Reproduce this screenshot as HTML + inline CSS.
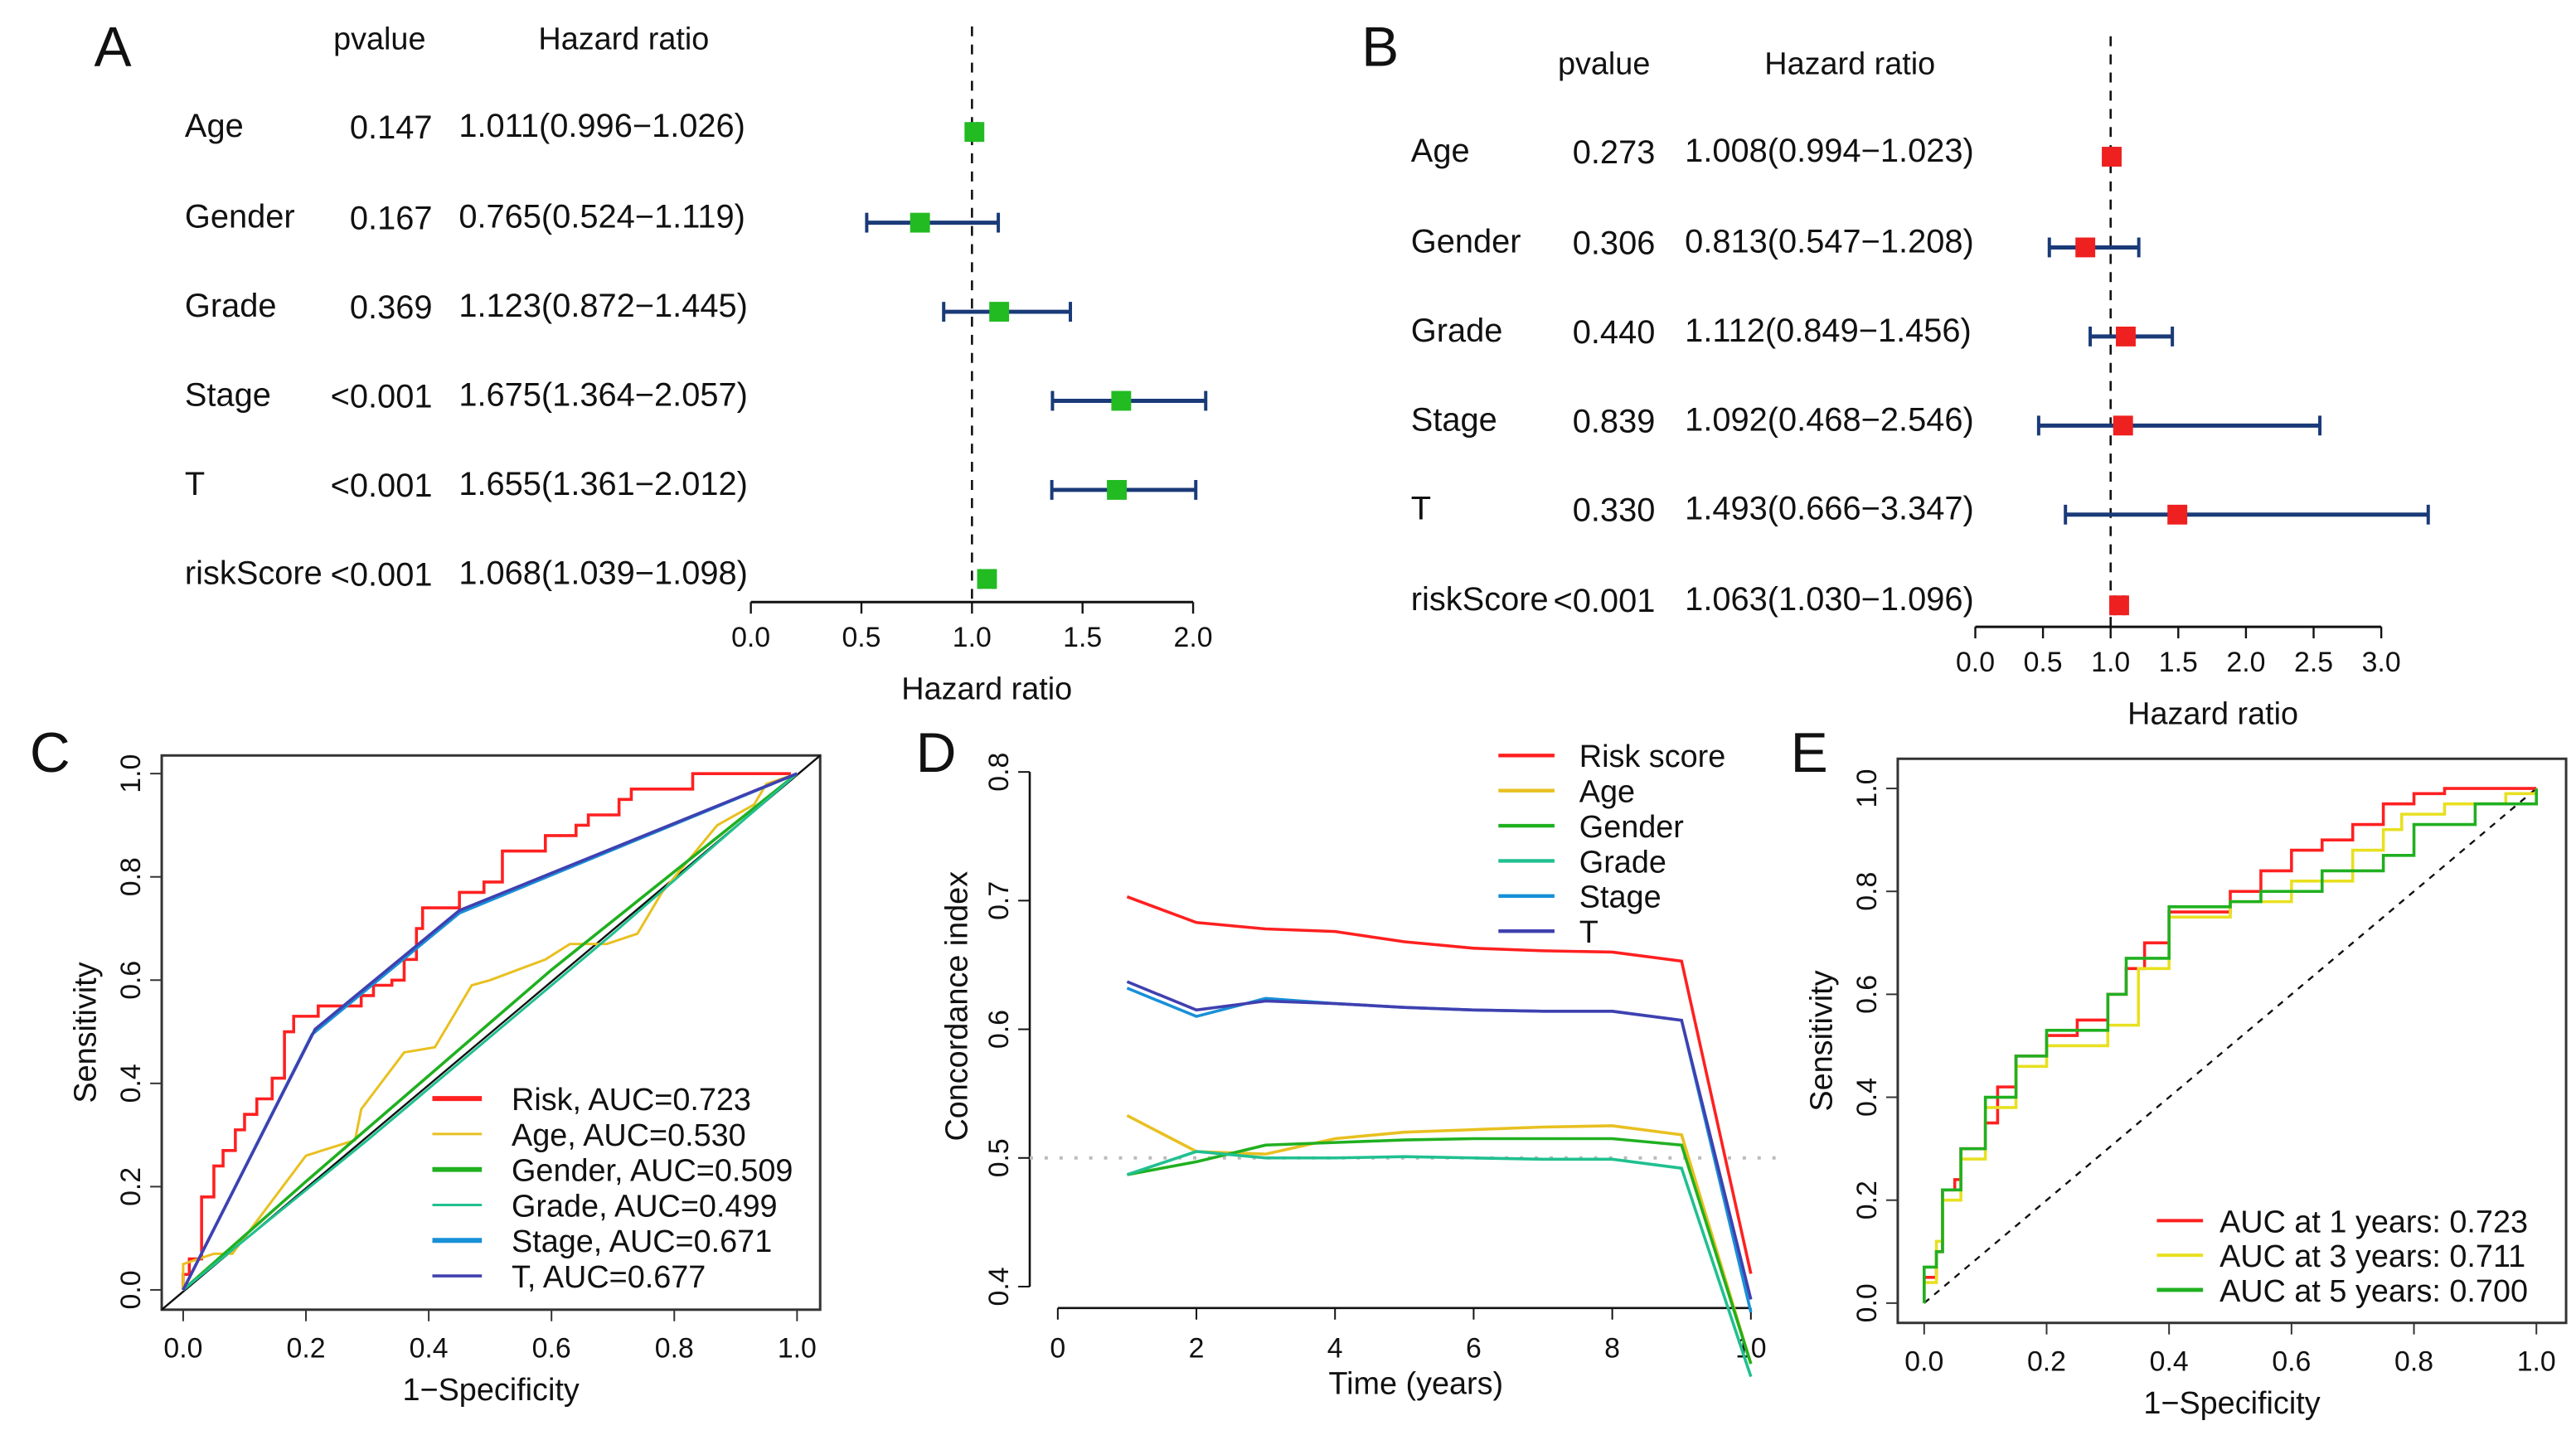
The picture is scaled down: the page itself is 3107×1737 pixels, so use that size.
<!DOCTYPE html>
<html><head><meta charset="utf-8"><style>
html,body{margin:0;padding:0;background:#fff}
svg{display:block;font-family:"Liberation Sans",sans-serif}
</style></head><body>
<svg id="fig" width="3107" height="1737" viewBox="0 0 1561 873" preserveAspectRatio="none" xmlns="http://www.w3.org/2000/svg">
<rect x="0" y="0" width="1561" height="873" fill="#fff"/>
</svg>
<script>
// ---- Data ----
const forestVars = ["Age","Gender","Grade","Stage","T","riskScore"];
const aP = ["0.147","0.167","0.369","<0.001","<0.001","<0.001"];
const aHR = [1.011,0.765,1.123,1.675,1.655,1.068];
const aLo = [0.996,0.524,0.872,1.364,1.361,1.039];
const aHi = [1.026,1.119,1.445,2.057,2.012,1.098];
const bP = ["0.273","0.306","0.440","0.839","0.330","<0.001"];
const bHR = [1.008,0.813,1.112,1.092,1.493,1.063];
const bLo = [0.994,0.547,0.849,0.468,0.666,1.030];
const bHi = [1.023,1.208,1.456,2.546,3.347,1.096];
const aTicks = [0,0.5,1.0,1.5,2.0];
const bTicks = [0,0.5,1.0,1.5,2.0,2.5,3.0];

const cLabels = ["Risk, AUC=0.723","Age, AUC=0.530","Gender, AUC=0.509","Grade, AUC=0.499","Stage, AUC=0.671","T, AUC=0.677"];
const cColors = ["#ff2020","#e8c020","#20b020","#20c090","#1890d8","#4040b0"];
const cRisk = [[0,0],[0,0.03],[0.01,0.06],[0.02,0.06],[0.03,0.18],[0.05,0.24],[0.065,0.27],[0.085,0.31],[0.1,0.34],[0.12,0.37],[0.145,0.41],[0.165,0.46],[0.165,0.5],[0.18,0.53],[0.22,0.55],[0.26,0.55],[0.29,0.57],[0.31,0.59],[0.34,0.6],[0.36,0.64],[0.38,0.7],[0.39,0.74],[0.45,0.77],[0.49,0.79],[0.52,0.85],[0.59,0.88],[0.64,0.9],[0.66,0.92],[0.71,0.95],[0.73,0.97],[0.83,1],[0.99,1]];
const cAge = [[0,0],[0,0.05],[0.05,0.07],[0.08,0.07],[0.2,0.26],[0.28,0.29],[0.29,0.35],[0.36,0.46],[0.41,0.47],[0.47,0.59],[0.5,0.6],[0.59,0.64],[0.63,0.67],[0.69,0.67],[0.74,0.69],[0.78,0.77],[0.87,0.9],[0.93,0.94],[0.95,0.98],[1,1]];
const cGender = [[0,0],[0.2,0.21],[0.6,0.62],[1,1]];
const cGrade = [[0,0],[0.3,0.29],[0.7,0.69],[1,1]];
const cStage = [[0,0],[0.21,0.495],[0.45,0.73],[1,1]];
const cT = [[0,0],[0.215,0.505],[0.45,0.735],[1,1]];
const cSeries = [cRisk,cAge,cGender,cGrade,cStage,cT];

const dYears = [1,2,3,4,5,6,7,8,9,10];
const dRisk = [0.703,0.683,0.678,0.676,0.668,0.663,0.661,0.660,0.653,0.41];
const dAge = [0.533,0.505,0.503,0.515,0.520,0.522,0.524,0.525,0.518,0.34];
const dGender = [0.487,0.497,0.510,0.512,0.514,0.515,0.515,0.515,0.510,0.34];
const dGrade = [0.487,0.505,0.500,0.500,0.501,0.500,0.499,0.499,0.492,0.33];
const dStage = [0.632,0.610,0.624,0.620,0.617,0.615,0.614,0.614,0.607,0.38];
const dT = [0.637,0.615,0.622,0.620,0.617,0.615,0.614,0.614,0.607,0.39];
const dLabels = ["Risk score","Age","Gender","Grade","Stage","T"];
const dSeries = [dRisk,dAge,dGender,dGrade,dStage,dT];
const dYTicks = [0.4,0.5,0.6,0.7,0.8];
const dXTicks = [0,2,4,6,8,10];

const eLabels = ["AUC at 1 years: 0.723","AUC at 3 years: 0.711","AUC at 5 years: 0.700"];
const eColors = ["#ff2020","#e8e020","#20b020"];
const e1 = [[0,0],[0,0.05],[0.02,0.1],[0.03,0.22],[0.05,0.24],[0.06,0.3],[0.1,0.35],[0.12,0.42],[0.15,0.48],[0.2,0.52],[0.25,0.55],[0.3,0.6],[0.33,0.65],[0.36,0.7],[0.4,0.76],[0.5,0.8],[0.55,0.84],[0.6,0.88],[0.65,0.9],[0.7,0.93],[0.75,0.97],[0.8,0.99],[0.85,1],[1,1]];
const e3 = [[0,0],[0,0.04],[0.02,0.12],[0.03,0.2],[0.06,0.28],[0.1,0.38],[0.15,0.46],[0.2,0.5],[0.3,0.54],[0.35,0.65],[0.4,0.75],[0.5,0.78],[0.6,0.82],[0.7,0.88],[0.75,0.92],[0.78,0.95],[0.85,0.97],[0.95,0.99],[1,1]];
const e5 = [[0,0],[0,0.07],[0.02,0.1],[0.03,0.22],[0.06,0.3],[0.1,0.4],[0.15,0.48],[0.2,0.53],[0.3,0.6],[0.33,0.67],[0.4,0.77],[0.5,0.78],[0.55,0.8],[0.65,0.84],[0.75,0.87],[0.8,0.93],[0.9,0.97],[1,1]];
const eSeries = [e1,e3,e5];
const rocTicks = [0,0.2,0.4,0.6,0.8,1.0];

// ---- helpers ----
const NS="http://www.w3.org/2000/svg";
const svg=document.getElementById('fig');
function el(tag,attrs,parent){const e=document.createElementNS(NS,tag);for(const k in attrs)e.setAttribute(k,attrs[k]);(parent||svg).appendChild(e);return e;}
function txt(x,y,s,size,anchor,parent,rot){const t=el('text',{x:x,y:y,'font-size':size,'text-anchor':anchor||'start',fill:'#111'},parent);if(rot)t.setAttribute('transform','rotate('+rot+' '+x+' '+y+')');t.textContent=s;return t;}
function g(name){const e=el('g',{});return e;}
function fmt(v){return v.toFixed(3);}
function fmt1(v){return v.toFixed(1);}

// ---- Forest plot ----
function forest(o){
  const G=g(o.name);
  const L=txt(o.lx,o.ly,o.letter,34,'start',G);
  txt(o.pc,o.hy,'pvalue',19,'middle',G);
  txt(o.hc,o.hy,'Hazard ratio',19,'middle',G);
  const sx=v=>o.x0+v*o.k;
  el('line',{x1:sx(1),x2:sx(1),y1:o.dTop,y2:o.axY,stroke:'#111','stroke-width':1.3,'stroke-dasharray':'6,5'},G);
  forestVars.forEach((v,i)=>{
    const y=o.rows[i];
    const r=g('row-'+v.toLowerCase());G.appendChild(r);
    txt(o.nx,y+6,v,20,'start',r);
    txt(o.pr,y+7,o.P[i],20,'end',r);
    txt(o.hx,y+6,fmt(o.HR[i])+'('+fmt(o.Lo[i])+'\u2212'+fmt(o.Hi[i])+')',20,'start',r);
    const cy=y+3;
    const ci=el('g',{},r);
    el('line',{x1:sx(o.Lo[i]),x2:sx(o.Hi[i]),y1:cy,y2:cy,stroke:'#1a3a78','stroke-width':2.5},ci);
    el('line',{x1:sx(o.Lo[i]),x2:sx(o.Lo[i]),y1:cy-6,y2:cy+6,stroke:'#1a3a78','stroke-width':2},ci);
    el('line',{x1:sx(o.Hi[i]),x2:sx(o.Hi[i]),y1:cy-6,y2:cy+6,stroke:'#1a3a78','stroke-width':2},ci);
    const m=el('rect',{x:sx(o.HR[i])-6,y:cy-6,width:12,height:12,fill:o.col},r);
    
  });
  const ax=g('x-axis');G.appendChild(ax);
  el('line',{x1:sx(o.ticks[0]),x2:sx(o.ticks[o.ticks.length-1]),y1:o.axY,y2:o.axY,stroke:'#111','stroke-width':1.5},ax);
  o.ticks.forEach(t=>{el('line',{x1:sx(t),x2:sx(t),y1:o.axY,y2:o.axY+7,stroke:'#111','stroke-width':1.2},ax);txt(sx(t),o.axY+27,fmt1(t),17,'middle',ax);});
  const xt=txt(o.xtx,o.xty,'Hazard ratio',19,'middle',G);
}
forest({name:'panel-a-forest',letter:'A',lx:57,ly:40,pc:230,hc:378,hy:30,nx:112,pr:262,hx:278,rows:[77,132,186,240,294,348],P:aP,HR:aHR,Lo:aLo,Hi:aHi,x0:455,k:134,dTop:16,axY:365,ticks:aTicks,col:'#22bb22',xtx:598,xty:424});
forest({name:'panel-b-forest',letter:'B',lx:825,ly:40,pc:972,hc:1121,hy:45,nx:855,pr:1003,hx:1021,rows:[92,147,201,255,309,364],P:bP,HR:bHR,Lo:bLo,Hi:bHi,x0:1197,k:82,dTop:22,axY:380,ticks:bTicks,col:'#ee2020',xtx:1341,xty:439});

// ---- ROC panel ----
function roc(o){
  const G=g(o.name);
  const L=txt(o.lx,o.ly,o.letter,34,'start',G);
  const sx=v=>o.x0+v*(o.x1-o.x0), sy=v=>o.y0-v*(o.y0-o.y1);
  el('rect',{x:o.bx0,y:o.by0,width:o.bx1-o.bx0,height:o.by1-o.by0,fill:'none',stroke:'#333','stroke-width':1.5},G);
  const xa=g('x-axis');G.appendChild(xa);
  rocTicks.forEach(t=>{el('line',{x1:sx(t),x2:sx(t),y1:o.by1,y2:o.by1+7,stroke:'#333'},xa);txt(sx(t),o.by1+29,fmt1(t),17,'middle',xa);});
  const ya=g('y-axis');G.appendChild(ya);
  rocTicks.forEach(t=>{el('line',{x1:o.bx0,x2:o.bx0-7,y1:sy(t),y2:sy(t),stroke:'#333'},ya);txt(o.bx0-13,sy(t),fmt1(t),17,'middle',ya,-90);});
  const xt=txt((o.bx0+o.bx1)/2,o.by1+55,'1\u2212Specificity',19,'middle',G);
  const yt=txt(o.bx0-40,(o.by0+o.by1)/2,'Sensitivity',19,'middle',G,-90);
  const dg=el('line',{x1:o.dg[0],y1:o.dg[1],x2:o.dg[2],y2:o.dg[3],stroke:'#111','stroke-width':1.2},G);
  if(o.dash)dg.setAttribute('stroke-dasharray','4,4');
  
  o.series.forEach((s,i)=>{
    let pts;
    if(o.step[i]){pts=[];s.forEach((p,j)=>{if(j>0){pts.push(sx(p[0])+','+sy(s[j-1][1]));}pts.push(sx(p[0])+','+sy(p[1]));});}
    else pts=s.map(p=>sx(p[0])+','+sy(p[1]));
    const pl=el('polyline',{points:pts.join(' '),fill:'none',stroke:o.colors[i],'stroke-width':o.sw[i]},G);
    
  });
  const lg=g('legend');G.appendChild(lg);
  o.labels.forEach((lab,i)=>{
    const y=o.legY+i*o.legDy;
    const e=el('g',{},lg);
    el('line',{x1:o.legX,x2:o.legX+o.legW,y1:y,y2:y,stroke:o.colors[i],'stroke-width':o.legSw[i]},e);
    txt(o.legX+o.legW+o.legGap,y+7,lab,19,'start',e);
  });
}
roc({name:'panel-c-roc',letter:'C',lx:18,ly:468,x0:111,x1:483,y0:782,y1:469,bx0:98,bx1:497,by0:458,by1:794,dg:[98,794,497,458],dash:false,series:cSeries,colors:cColors,step:[true,false,false,false,false,false],sw:[1.8,1.5,1.8,1.5,1.8,1.8],labels:cLabels,legX:262,legW:30,legGap:18,legY:666,legDy:21.5,legSw:[3,1.5,3,1.5,3,1.8]});
roc({name:'panel-e-roc',letter:'E',lx:1085,ly:468,x0:1166,x1:1537,y0:790,y1:478,bx0:1150,bx1:1555,by0:460,by1:802,dg:[1166,790,1537,478],dash:true,series:eSeries,colors:eColors,step:[true,true,true],sw:[1.8,1.8,1.8],labels:eLabels,legX:1307,legW:28,legGap:10,legY:740,legDy:21,legSw:[2,2,2.5]});

// ---- C-index panel D ----
(function(){
  const G=g('panel-d-cindex');
  const L=txt(555,468,'D',34,'start',G);
  const sx=v=>641+v*42, sy=v=>780-(v-0.4)/0.4*312;
  const ya=g('y-axis');G.appendChild(ya);
  el('line',{x1:624,x2:624,y1:sy(0.4),y2:sy(0.8),stroke:'#111','stroke-width':1.3},ya);
  dYTicks.forEach(t=>{el('line',{x1:624,x2:617,y1:sy(t),y2:sy(t),stroke:'#111'},ya);txt(611,sy(t),fmt1(t),17,'middle',ya,-90);});
  const xa=g('x-axis');G.appendChild(xa);
  el('line',{x1:sx(0),x2:sx(10),y1:793,y2:793,stroke:'#111','stroke-width':1.3},xa);
  dXTicks.forEach(t=>{el('line',{x1:sx(t),x2:sx(t),y1:793,y2:800,stroke:'#111'},xa);txt(sx(t),823,String(t),17,'middle',xa);});
  const xt=txt(858,845,'Time (years)',19,'middle',G);
  const yt=txt(586,610,'Concordance index',19,'middle',G,-90);
  const ref=el('line',{x1:624,x2:1080,y1:sy(0.5),y2:sy(0.5),stroke:'#bbb','stroke-width':2,'stroke-dasharray':'2,7'},G);
  
  dSeries.forEach((s,i)=>{
    const pl=el('polyline',{points:s.map((v,j)=>sx(dYears[j])+','+sy(v)).join(' '),fill:'none',stroke:cColors[i],'stroke-width':1.8},G);
    
  });
  const lg=g('legend');G.appendChild(lg);
  dLabels.forEach((lab,i)=>{
    const y=458+i*21.3;
    const e=el('g',{},lg);
    el('line',{x1:908,x2:942,y1:y,y2:y,stroke:cColors[i],'stroke-width':2.2},e);
    txt(957,y+7,lab,19,'start',e);
  });
})();
</script>
</body></html>
